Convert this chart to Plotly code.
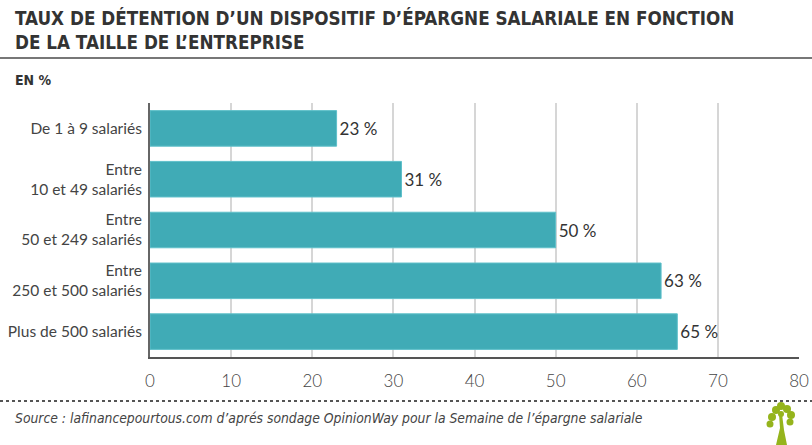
import plotly.graph_objects as go

categories = ["De 1 à 9 salariés", "Entre<br>10 et 49 salariés", "Entre<br>50 et 249 salariés",
              "Entre<br>250 et 500 salariés", "Plus de 500 salariés"]
values = [23, 31, 50, 63, 65]
value_labels = ["23 %", "31 %", "50 %", "63 %", "65 %"]
tick_vals = [0, 10, 20, 30, 40, 50, 60, 70, 80]

BAR = "#40abb6"
FONT = "Lato, 'Open Sans', sans-serif"
TITLE_FONT = "'DejaVu Sans Condensed', 'Liberation Sans Narrow', sans-serif"

W, H = 812, 445
L, R, T, B = 150, 799, 103, 357   # plot area in pixels

fig = go.Figure()
fig.add_trace(go.Bar(
    x=values, y=categories, orientation="h",
    marker=dict(color=BAR, line=dict(color="#5fc0ca", width=1)),
    width=0.7,
    text=value_labels, textposition="outside",
    textfont=dict(family=FONT, size=17, color="#333333"),
    cliponaxis=False,
    hoverinfo="skip",
))

fig.update_layout(
    width=W, height=H,
    margin=dict(l=L, r=W - R, t=T, b=H - B),
    paper_bgcolor="white", plot_bgcolor="white",
    showlegend=False,
    xaxis=dict(range=[0, 80], tickvals=tick_vals, showgrid=True, gridcolor="#d6d6d6", gridwidth=2,
               zeroline=False, showline=True, linecolor="#555555", linewidth=2,
               tickfont=dict(family=FONT, size=17, color="#444444", weight=300),
               ticks="", ticklabelstandoff=8, automargin=False, ticklabeloverflow="allow",
               fixedrange=True),
    yaxis=dict(autorange="reversed", showline=True, linecolor="#666666", linewidth=2,
               showgrid=False, ticks="", ticklabelstandoff=3, automargin=False,
               tickfont=dict(family=FONT, size=15.5, color="#444444"), fixedrange=True),
    font=dict(family=FONT),
)

def px(x): return (x - L) / (R - L)
def py(y): return (B - y) / (B - T)

# title
fig.add_annotation(text="TAUX DE DÉTENTION D’UN DISPOSITIF D’ÉPARGNE SALARIALE EN FONCTION<br>DE LA TAILLE DE L’ENTREPRISE",
                   xref="paper", yref="paper", x=px(13), y=py(5), xanchor="left", yanchor="top",
                   align="left", showarrow=False,
                   font=dict(family=TITLE_FONT, size=18.7, color="#333333", weight="bold"))
fig.add_annotation(text="EN %", xref="paper", yref="paper", x=px(13), y=py(80),
                   xanchor="left", yanchor="middle", showarrow=False,
                   font=dict(family=TITLE_FONT, size=14, color="#333333", weight="bold"))
fig.add_annotation(text="<i>Source : lafinancepourtous.com d’aprés sondage OpinionWay pour la Semaine de l’épargne salariale</i>",
                   xref="paper", yref="paper", x=px(13), y=py(418),
                   xanchor="left", yanchor="middle", showarrow=False,
                   font=dict(family=TITLE_FONT, size=13.8, color="#444444"))

# separators
fig.add_shape(type="line", xref="paper", yref="paper", x0=px(0), x1=px(812),
              y0=py(58), y1=py(58), line=dict(color="#777777", width=2))
fig.add_shape(type="line", xref="paper", yref="paper", x0=px(0), x1=px(812),
              y0=py(401), y1=py(401), line=dict(color="#555555", width=2, dash="dot"))

# simple tree logo
G = "#95b41c"
fig.add_shape(type="path", xref="paper", yref="paper",
              path=f"M {px(776)} {py(445)} L {px(780)} {py(428)} L {px(779)} {py(414)} L {px(782)} {py(414)} L {px(784)} {py(430)} L {px(787)} {py(445)} Z",
              fillcolor=G, line=dict(width=0))
for cx, cy, r in [(772, 417, 4), (776, 410, 4), (781, 406, 4), (787, 409, 4), (791, 415, 4),
                  (770, 424, 3.5), (790, 422, 3.5), (781, 414, 3)]:
    fig.add_shape(type="circle", xref="paper", yref="paper",
                  x0=px(cx - r), x1=px(cx + r), y0=py(cy + r), y1=py(cy - r),
                  fillcolor=G, line=dict(width=0))

fig.write_html("out.html", config={"displayModeBar": False},
               post_script="document.body.style.margin='0';document.body.style.overflow='hidden';")
